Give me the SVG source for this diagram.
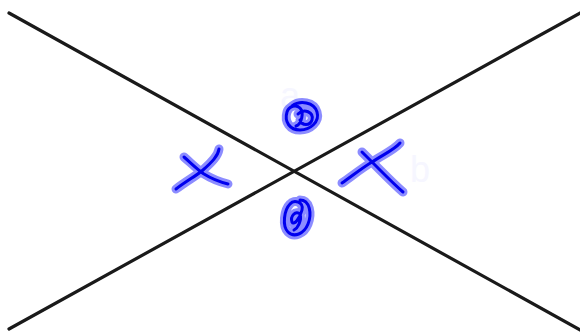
<svg xmlns="http://www.w3.org/2000/svg" width="580" height="332" viewBox="0 0 580 332">
<style>
.ln{stroke:#1a1a1a;stroke-width:3.2;fill:none;stroke-linecap:round}
.halo{stroke:#0000ff;stroke-opacity:0.45;stroke-width:9;fill:none;stroke-linecap:round;stroke-linejoin:round}
.ink{stroke:#0000ee;stroke-width:3;fill:none;stroke-linecap:round;stroke-linejoin:round}
.lbl{font-family:"Liberation Sans",Arial,sans-serif;font-size:36px;fill:#f6f6ff}
</style>
<rect width="580" height="332" fill="#ffffff"/>
<g id="labels">
<text class="lbl" x="280" y="108">a</text>
<text class="lbl" x="410" y="182">b</text>
</g>
<g id="connectors">
<line class="ln" x1="9" y1="13" x2="582" y2="331"/>
<line class="ln" x1="9" y1="329" x2="582" y2="12"/>
</g>
<g id="mark-left">
<path class="halo" d="M176,189 C188,180 196,176 203,170 C212,162 218,156 219,149 M184,157 C192,164 198,170 204,174 C212,179 220,182 228,184"/>
<path class="ink" d="M176,189 C188,180 196,176 203,170 C212,162 218,156 219,149 M184,157 C192,164 198,170 204,174 C212,179 220,182 228,184"/>
</g>
<g id="mark-right">
<path class="halo" d="M342,183 C352,176 362,168 372,162 C384,154 394,150 400,143 M362,152 C368,158 372,162 380,170 C388,178 396,186 403,192"/>
<path class="ink" d="M342,183 C352,176 362,168 372,162 C384,154 394,150 400,143 M362,152 C368,158 372,162 380,170 C388,178 396,186 403,192"/>
</g>
<g id="mark-top">
<path class="halo" d="M292,106 C300,100 314,102 317,112 C320,122 310,130 300,130 C290,130 284,122 287,112 C289,106 296,104 300,108 C304,112 302,124 296,126 M298,114 C304,108 314,112 312,120 C310,126 302,126 300,120"/>
<path class="ink" d="M292,106 C300,100 314,102 317,112 C320,122 310,130 300,130 C290,130 284,122 287,112 C289,106 296,104 300,108 C304,112 302,124 296,126 M298,114 C304,108 314,112 312,120 C310,126 302,126 300,120"/>
</g>
<g id="mark-bottom">
<path class="halo" d="M300,200 C310,200 312,214 308,224 C304,234 294,238 288,232 C282,226 284,210 290,204 C294,199 304,202 302,210 C300,218 294,226 292,222 C290,216 296,210 300,214 C302,220 298,228 294,230"/>
<path class="ink" d="M300,200 C310,200 312,214 308,224 C304,234 294,238 288,232 C282,226 284,210 290,204 C294,199 304,202 302,210 C300,218 294,226 292,222 C290,216 296,210 300,214 C302,220 298,228 294,230"/>
</g>
</svg>
